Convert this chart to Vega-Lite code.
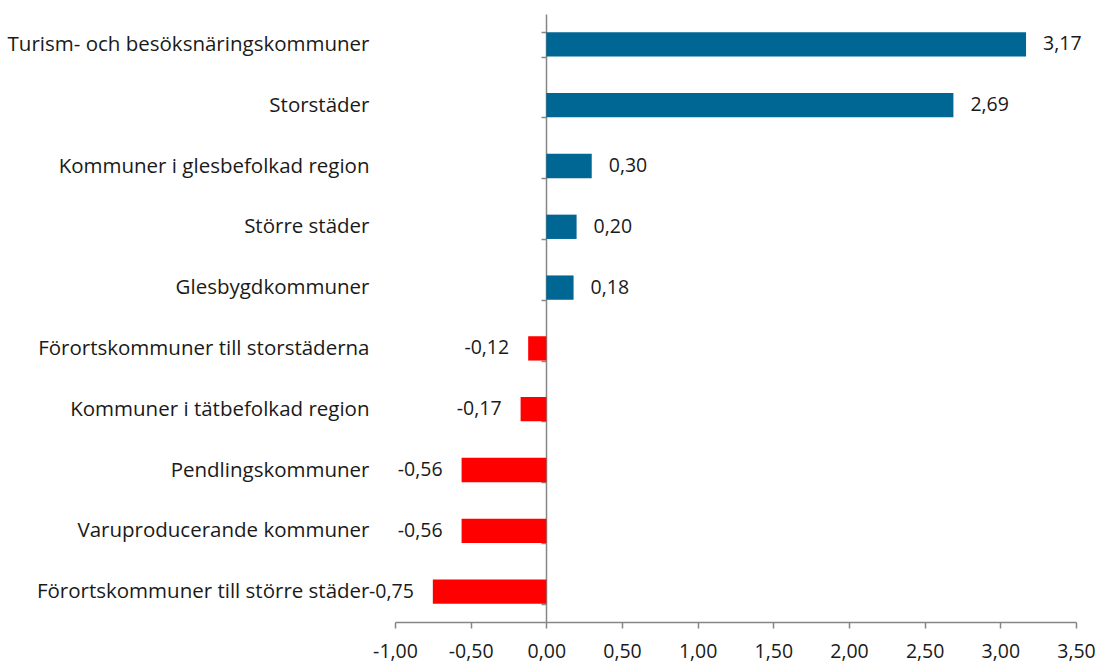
{
  "$schema": "https://vega.github.io/schema/vega-lite/v6.json",
  "width": 681,
  "height": 608,
  "autosize": {"type": "none"},
  "padding": {"left": 395, "top": 14, "right": 25, "bottom": 43},
  "background": "white",
  "config": {
    "locale": {"number": {"decimal": ",", "thousands": " ", "grouping": [3], "currency": ["", " kr"], "minus": "-"}},
    "view": {"stroke": null},
    "font": "Open Sans"
  },
  "data": {
    "values": [
      {"kategori": "Turism- och besöksnäringskommuner", "varde": 3.17},
      {"kategori": "Storstäder", "varde": 2.69},
      {"kategori": "Kommuner i glesbefolkad region", "varde": 0.30},
      {"kategori": "Större städer", "varde": 0.20},
      {"kategori": "Glesbygdkommuner", "varde": 0.18},
      {"kategori": "Förortskommuner till storstäderna", "varde": -0.12},
      {"kategori": "Kommuner i tätbefolkad region", "varde": -0.17},
      {"kategori": "Pendlingskommuner", "varde": -0.56},
      {"kategori": "Varuproducerande kommuner", "varde": -0.56},
      {"kategori": "Förortskommuner till större städer", "varde": -0.75}
    ]
  },
  "encoding": {
    "y": {
      "field": "kategori",
      "type": "nominal",
      "sort": null,
      "scale": {"paddingInner": 0.6, "paddingOuter": 0.3},
      "axis": {
        "title": null,
        "orient": "left",
        "offset": -151,
        "domainColor": "#868686",
        "domainWidth": 1.5,
        "tickColor": "#868686",
        "tickWidth": 1.5,
        "tickSize": 5,
        "tickBand": "extent",
        "labelPadding": 172,
        "labelFontSize": 20.5,
        "labelColor": "#1a1a1a",
        "labelLimit": 420
      }
    }
  },
  "layer": [
    {
      "mark": {"type": "bar"},
      "encoding": {
        "x": {
          "field": "varde",
          "type": "quantitative",
          "scale": {"domain": [-1, 3.5], "nice": false, "zero": false},
          "axis": {
            "title": null,
            "values": [-1, -0.5, 0, 0.5, 1, 1.5, 2, 2.5, 3, 3.5],
            "format": ".2f",
            "grid": false,
            "labelFlush": false,
            "domainColor": "#868686",
            "domainWidth": 1.5,
            "tickColor": "#868686",
            "tickWidth": 1.5,
            "tickSize": 6,
            "labelPadding": 14,
            "labelFontSize": 19.5,
            "labelColor": "#1a1a1a"
          }
        },
        "x2": {"datum": 0},
        "color": {
          "condition": {"test": "datum.varde < 0", "value": "#FF0000"},
          "value": "#006694"
        }
      }
    },
    {
      "transform": [{"filter": "datum.varde >= 0"}],
      "mark": {"type": "text", "align": "left", "dx": 17, "fontSize": 19.5, "color": "#1a1a1a"},
      "encoding": {
        "x": {"field": "varde", "type": "quantitative"},
        "text": {"field": "varde", "type": "quantitative", "format": ".2f"}
      }
    },
    {
      "transform": [{"filter": "datum.varde < 0"}],
      "mark": {"type": "text", "align": "right", "dx": -19, "fontSize": 19.5, "color": "#1a1a1a"},
      "encoding": {
        "x": {"field": "varde", "type": "quantitative"},
        "text": {"field": "varde", "type": "quantitative", "format": ".2f"}
      }
    }
  ]
}
